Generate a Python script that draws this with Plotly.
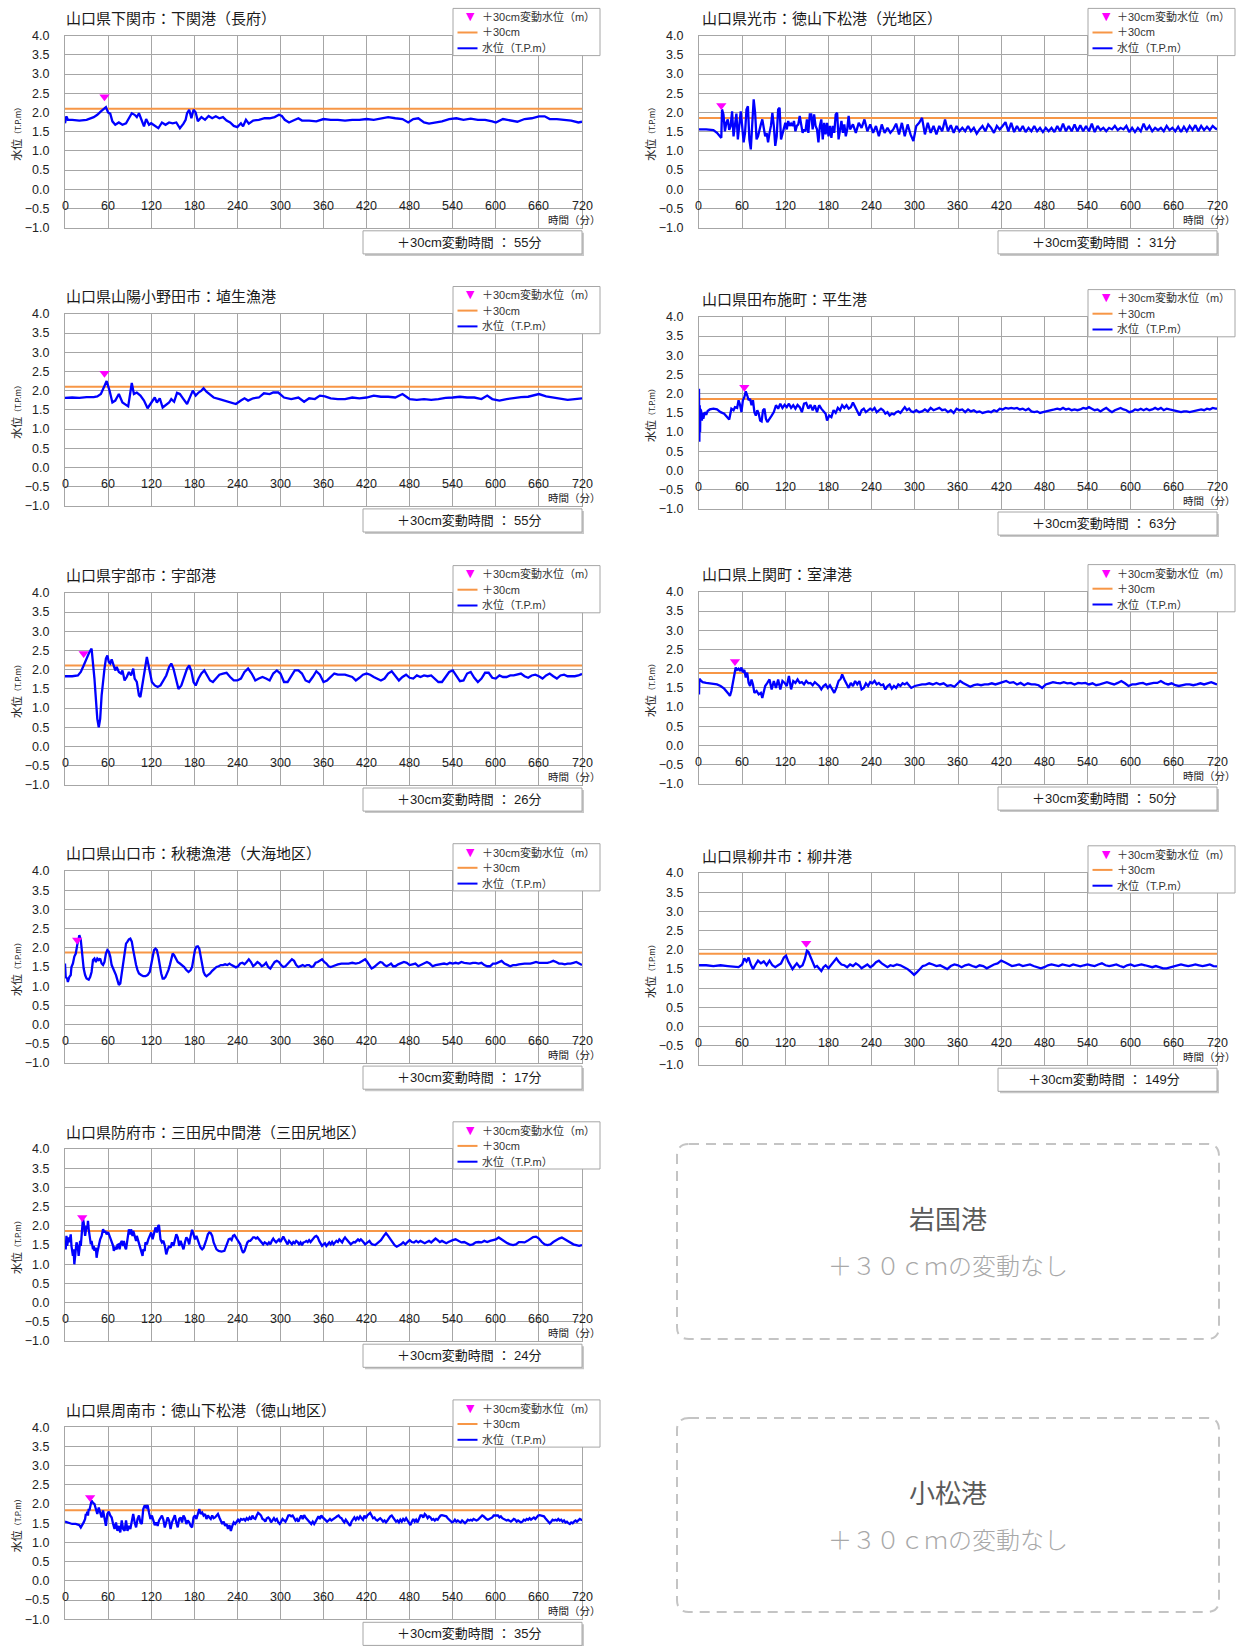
import plotly.graph_objects as go

W, H = 1252, 1646

# ---------------------------------------------------------------- data
time_ticks = list(range(0, 721, 60))
level_ticks = [-1.0, -0.5, 0.0, 0.5, 1.0, 1.5, 2.0, 2.5, 3.0, 3.5, 4.0]

# (minute, water level T.P. m)
shimonoseki = [(0,1.72),(2,1.9),(4,1.81),(10,1.81),(20,1.79),(30,1.81),(40,1.88),(45,1.94),(50,2.03),(55,2.11),(57,2.14),(60,2.0),(63,1.97),(66,1.77),(70,1.68),(75,1.74),(80,1.68),(85,1.72),(90,1.88),(93,1.98),(97,1.94),(100,1.88),(103,1.98),(107,1.77),(110,1.64),(113,1.83),(117,1.68),(120,1.72),(125,1.65),(130,1.59),(135,1.74),(140,1.68),(145,1.74),(150,1.72),(155,1.74),(160,1.59),(165,1.71),(168,1.81),(170,1.98),(173,2.07),(176,1.85),(179,2.07),(182,2.0),(185,1.77),(190,1.88),(195,1.81),(200,1.91),(205,1.85),(210,1.9),(215,1.85),(220,1.88),(225,1.79),(230,1.74),(235,1.65),(240,1.62),(245,1.72),(248,1.64),(252,1.81),(256,1.71),(262,1.79),(270,1.81),(278,1.85),(285,1.85),(292,1.88),(298,1.94),(302,1.91),(306,1.81),(312,1.74),(318,1.79),(325,1.85),(330,1.79),(340,1.79),(350,1.77),(360,1.83),(370,1.81),(380,1.81),(390,1.79),(400,1.81),(410,1.81),(420,1.83),(430,1.81),(440,1.84),(450,1.88),(460,1.85),(470,1.83),(478,1.74),(485,1.83),(492,1.85),(500,1.74),(507,1.71),(515,1.74),(525,1.77),(535,1.83),(545,1.85),(555,1.81),(565,1.84),(575,1.81),(585,1.81),(595,1.77),(600,1.74),(610,1.83),(620,1.79),(630,1.76),(640,1.83),(650,1.85),(660,1.9),(668,1.9),(675,1.83),(685,1.83),(695,1.81),(705,1.79),(715,1.74),(720,1.76)]

hikari = [(0,1.56),(10,1.56),(20,1.54),(25,1.47),(29,1.38),(31,1.34),(32,2.08),(34,1.95),(36,1.51),(38,1.73),(40,1.82),(42,1.55),(44,1.65),(46,2.03),(48,1.38),(50,1.73),(52,1.97),(54,1.3),(56,1.78),(58,2.03),(60,1.65),(62,1.22),(64,1.47),(66,2.08),(68,2.16),(70,1.3),(72,1.04),(74,1.65),(76,2.34),(78,1.99),(80,1.3),(82,1.38),(84,1.56),(86,1.69),(88,1.82),(90,1.56),(92,1.38),(94,1.47),(96,1.22),(98,1.47),(100,1.65),(102,1.99),(104,1.65),(106,1.13),(108,1.38),(110,2.08),(112,2.12),(114,1.3),(116,1.47),(118,1.65),(120,1.73),(122,1.56),(124,1.78),(126,1.65),(128,1.71),(130,1.65),(132,1.78),(134,1.51),(136,1.65),(138,1.69),(140,1.91),(142,1.69),(144,1.47),(146,1.56),(148,1.51),(150,1.82),(152,1.47),(154,1.95),(156,1.95),(158,1.56),(160,1.95),(162,1.65),(164,1.56),(166,1.22),(168,1.65),(170,1.82),(172,1.3),(174,1.73),(176,1.43),(178,1.73),(180,1.38),(182,1.65),(184,1.34),(186,1.65),(188,1.47),(190,1.95),(192,1.99),(194,1.3),(196,1.56),(198,1.78),(200,1.47),(202,1.69),(204,1.38),(206,1.56),(208,1.91),(210,1.56),(214,1.69),(218,1.47),(222,1.73),(226,1.6),(230,1.82),(234,1.51),(238,1.69),(242,1.47),(246,1.65),(250,1.38),(254,1.69),(258,1.47),(262,1.6),(266,1.47),(270,1.56),(274,1.71),(278,1.43),(282,1.73),(286,1.38),(290,1.69),(294,1.43),(298,1.26),(302,1.65),(306,1.73),(310,1.86),(314,1.43),(318,1.73),(322,1.47),(326,1.65),(330,1.43),(334,1.65),(338,1.51),(342,1.82),(346,1.51),(350,1.67),(354,1.47),(358,1.65),(362,1.51),(366,1.6),(370,1.51),(374,1.65),(378,1.51),(382,1.6),(386,1.45),(390,1.56),(394,1.65),(398,1.51),(402,1.69),(406,1.6),(410,1.47),(414,1.65),(418,1.56),(422,1.65),(426,1.75),(430,1.51),(434,1.73),(438,1.49),(442,1.65),(446,1.51),(450,1.65),(454,1.49),(458,1.6),(462,1.51),(466,1.65),(470,1.51),(474,1.6),(478,1.49),(482,1.6),(486,1.51),(490,1.6),(494,1.49),(498,1.65),(502,1.51),(506,1.71),(510,1.51),(514,1.65),(518,1.51),(522,1.69),(526,1.51),(530,1.67),(534,1.51),(538,1.65),(542,1.51),(546,1.71),(550,1.49),(554,1.65),(558,1.54),(562,1.6),(566,1.51),(570,1.6),(574,1.56),(578,1.65),(582,1.54),(586,1.6),(590,1.56),(594,1.65),(598,1.49),(602,1.6),(606,1.49),(610,1.6),(614,1.51),(618,1.71),(622,1.54),(626,1.65),(630,1.51),(634,1.6),(638,1.54),(642,1.6),(646,1.51),(650,1.65),(654,1.54),(658,1.6),(662,1.51),(666,1.63),(670,1.49),(674,1.63),(678,1.51),(682,1.65),(686,1.54),(690,1.67),(694,1.51),(698,1.65),(702,1.54),(706,1.63),(710,1.54),(714,1.65),(718,1.58),(720,1.56)]

habu = [(0,1.81),(10,1.82),(20,1.81),(30,1.83),(40,1.83),(45,1.85),(50,1.91),(55,2.13),(58,2.25),(62,2.0),(66,1.69),(70,1.74),(75,1.91),(80,1.69),(85,1.62),(88,1.59),(91,1.95),(93,2.2),(96,1.91),(100,1.95),(105,1.87),(110,1.74),(115,1.54),(120,1.69),(125,1.82),(128,1.69),(132,1.8),(136,1.56),(140,1.62),(145,1.69),(148,1.78),(152,1.71),(156,1.94),(160,1.91),(165,1.78),(170,1.65),(175,1.87),(178,2.0),(182,1.87),(186,1.95),(190,2.0),(193,2.06),(197,1.97),(202,1.89),(207,1.82),(215,1.78),(225,1.72),(232,1.69),(238,1.65),(245,1.74),(250,1.8),(255,1.74),(262,1.8),(270,1.82),(277,1.93),(285,1.91),(290,1.95),(297,1.95),(305,1.82),(315,1.78),(325,1.82),(333,1.71),(340,1.8),(348,1.78),(355,1.87),(362,1.85),(370,1.8),(380,1.78),(390,1.78),(400,1.82),(410,1.8),(420,1.82),(430,1.87),(440,1.84),(450,1.84),(460,1.82),(470,1.91),(480,1.78),(490,1.76),(500,1.78),(510,1.76),(520,1.78),(530,1.81),(540,1.82),(550,1.84),(560,1.82),(570,1.82),(580,1.78),(588,1.87),(595,1.78),(605,1.74),(615,1.78),(625,1.81),(635,1.83),(645,1.84),(655,1.89),(660,1.91),(670,1.85),(680,1.82),(690,1.78),(700,1.76),(710,1.78),(720,1.8)]

hirao = [(0,2.13),(0.5,0.75),(1,1.7),(1.5,1.0),(2,1.6),(2.5,1.2),(3,1.55),(4,1.3),(5,1.5),(6,1.35),(8,1.52),(10,1.45),(12,1.55),(15,1.59),(20,1.61),(25,1.59),(30,1.52),(35,1.48),(40,1.39),(42,1.33),(45,1.61),(48,1.57),(50,1.65),(53,1.63),(55,1.83),(57,1.71),(59,1.52),(61,1.83),(63,1.91),(65,2.06),(67,1.96),(69,1.83),(71,1.87),(73,1.7),(75,1.83),(77,1.52),(79,1.43),(81,1.57),(83,1.48),(85,1.3),(87,1.28),(89,1.57),(91,1.61),(93,1.35),(95,1.26),(98,1.33),(101,1.43),(104,1.52),(107,1.7),(110,1.61),(113,1.74),(116,1.63),(119,1.71),(122,1.65),(125,1.74),(128,1.63),(131,1.7),(134,1.61),(137,1.71),(140,1.65),(143,1.52),(146,1.74),(149,1.76),(152,1.61),(155,1.71),(158,1.57),(161,1.7),(164,1.52),(167,1.7),(170,1.61),(173,1.54),(176,1.48),(178,1.3),(181,1.43),(184,1.39),(187,1.57),(190,1.5),(193,1.63),(196,1.57),(199,1.7),(202,1.63),(205,1.7),(208,1.61),(211,1.65),(214,1.77),(217,1.65),(220,1.57),(223,1.43),(226,1.57),(229,1.61),(232,1.52),(235,1.57),(238,1.61),(241,1.57),(244,1.63),(247,1.52),(250,1.57),(253,1.61),(256,1.57),(259,1.48),(262,1.52),(265,1.43),(268,1.48),(271,1.46),(274,1.52),(277,1.54),(280,1.5),(283,1.59),(286,1.65),(289,1.57),(292,1.61),(295,1.54),(298,1.52),(302,1.57),(306,1.52),(310,1.54),(314,1.59),(318,1.54),(322,1.63),(326,1.57),(330,1.61),(334,1.63),(338,1.57),(342,1.59),(346,1.52),(350,1.57),(354,1.5),(358,1.61),(362,1.57),(366,1.59),(370,1.52),(374,1.59),(378,1.54),(382,1.57),(386,1.52),(390,1.54),(394,1.5),(398,1.52),(402,1.54),(406,1.52),(410,1.57),(414,1.54),(418,1.61),(422,1.59),(426,1.63),(430,1.61),(434,1.63),(438,1.61),(442,1.63),(446,1.59),(450,1.61),(454,1.57),(458,1.61),(462,1.54),(466,1.52),(470,1.54),(474,1.5),(478,1.52),(482,1.54),(486,1.57),(490,1.57),(494,1.59),(498,1.61),(502,1.59),(506,1.63),(510,1.59),(514,1.61),(518,1.57),(522,1.59),(526,1.57),(530,1.59),(534,1.63),(538,1.61),(542,1.65),(546,1.61),(550,1.57),(554,1.59),(558,1.54),(562,1.59),(566,1.63),(570,1.57),(574,1.52),(578,1.57),(582,1.59),(586,1.63),(590,1.59),(594,1.57),(598,1.52),(602,1.54),(606,1.59),(610,1.57),(614,1.61),(618,1.57),(622,1.61),(626,1.57),(630,1.59),(634,1.63),(638,1.59),(642,1.63),(646,1.57),(650,1.61),(654,1.59),(658,1.57),(662,1.54),(666,1.54),(670,1.52),(674,1.54),(678,1.54),(682,1.52),(686,1.54),(690,1.57),(694,1.57),(698,1.59),(702,1.57),(706,1.61),(710,1.59),(714,1.63),(718,1.61),(720,1.61)]

ube = [(0,1.83),(10,1.83),(18,1.85),(22,1.94),(26,2.11),(30,2.29),(34,2.46),(37,2.55),(39,2.2),(41,1.77),(43,1.24),(45,0.72),(47,0.5),(49,0.72),(51,1.33),(53,1.77),(55,2.03),(57,2.29),(59,2.37),(61,2.2),(63,2.16),(65,2.27),(67,2.16),(70,1.98),(72,2.07),(75,1.94),(78,1.9),(80,1.98),(83,1.72),(86,1.81),(89,1.94),(92,1.85),(95,2.03),(97,1.77),(100,1.68),(103,1.33),(105,1.29),(108,1.59),(111,1.98),(114,2.33),(116,2.16),(118,1.94),(121,1.68),(125,1.59),(129,1.55),(133,1.59),(137,1.72),(141,1.85),(145,2.07),(148,2.16),(151,2.03),(154,1.77),(158,1.5),(162,1.59),(166,1.81),(170,2.03),(173,2.11),(176,1.96),(179,1.68),(182,1.59),(186,1.77),(190,1.9),(194,1.98),(198,1.85),(202,1.72),(206,1.68),(210,1.77),(215,1.87),(220,1.9),(225,1.92),(230,1.81),(235,1.72),(240,1.72),(245,1.77),(250,1.94),(255,2.03),(260,1.9),(265,1.72),(270,1.77),(275,1.81),(280,1.77),(285,1.72),(290,1.9),(295,1.98),(300,1.9),(305,1.68),(310,1.68),(315,1.83),(320,1.98),(325,1.98),(330,1.9),(335,1.72),(340,1.68),(345,1.81),(350,1.96),(355,1.87),(360,1.68),(365,1.72),(370,1.81),(375,1.9),(380,1.87),(390,1.87),(400,1.81),(405,1.72),(410,1.79),(415,1.87),(420,1.9),(425,1.87),(430,1.81),(435,1.77),(440,1.72),(445,1.77),(450,1.9),(455,1.96),(460,1.85),(465,1.72),(470,1.81),(475,1.87),(480,1.79),(485,1.77),(490,1.85),(495,1.81),(500,1.85),(505,1.83),(510,1.85),(515,1.77),(520,1.68),(525,1.68),(530,1.81),(535,1.94),(540,1.98),(545,1.85),(550,1.7),(555,1.72),(560,1.9),(565,1.94),(570,1.79),(575,1.68),(580,1.77),(585,1.92),(590,1.92),(595,1.79),(600,1.77),(605,1.85),(610,1.81),(615,1.81),(620,1.85),(625,1.85),(630,1.87),(635,1.9),(640,1.83),(645,1.79),(650,1.85),(655,1.87),(660,1.83),(665,1.77),(670,1.85),(675,1.9),(680,1.83),(685,1.77),(690,1.85),(695,1.87),(700,1.83),(710,1.83),(715,1.85),(720,1.89)]

murotsu = [(0,1.33),(0.5,1.74),(2,1.7),(5,1.65),(10,1.63),(15,1.62),(20,1.61),(25,1.59),(30,1.55),(35,1.48),(40,1.37),(43,1.29),(45,1.42),(47,1.63),(49,1.9),(51,2.03),(53,1.97),(55,2.0),(57,1.94),(59,2.03),(61,1.9),(63,1.97),(65,1.77),(67,1.9),(69,1.63),(71,1.55),(73,1.72),(75,1.59),(77,1.37),(80,1.42),(83,1.33),(86,1.37),(88,1.24),(90,1.37),(92,1.55),(95,1.63),(98,1.72),(101,1.46),(104,1.68),(107,1.5),(110,1.72),(113,1.46),(116,1.68),(119,1.63),(122,1.55),(125,1.81),(128,1.46),(131,1.68),(134,1.63),(137,1.72),(140,1.63),(143,1.65),(146,1.59),(149,1.68),(152,1.62),(155,1.63),(158,1.57),(161,1.65),(164,1.59),(167,1.55),(170,1.46),(173,1.55),(176,1.59),(179,1.5),(182,1.57),(185,1.46),(188,1.37),(191,1.5),(194,1.68),(197,1.74),(199,1.85),(202,1.72),(205,1.59),(208,1.5),(211,1.63),(214,1.55),(217,1.68),(220,1.59),(223,1.68),(226,1.46),(229,1.5),(232,1.62),(235,1.55),(238,1.65),(241,1.62),(244,1.68),(247,1.59),(250,1.63),(253,1.57),(256,1.59),(259,1.46),(262,1.55),(265,1.59),(268,1.48),(271,1.55),(274,1.5),(277,1.59),(280,1.55),(283,1.62),(286,1.59),(289,1.63),(292,1.57),(295,1.5),(300,1.55),(305,1.57),(310,1.59),(315,1.59),(320,1.62),(325,1.59),(330,1.63),(335,1.59),(340,1.62),(345,1.55),(350,1.57),(355,1.53),(360,1.63),(363,1.68),(367,1.63),(372,1.57),(377,1.53),(382,1.57),(387,1.59),(392,1.57),(397,1.59),(402,1.59),(407,1.62),(412,1.59),(417,1.63),(422,1.65),(427,1.68),(432,1.63),(437,1.65),(442,1.59),(447,1.63),(452,1.57),(457,1.62),(462,1.59),(467,1.59),(472,1.57),(477,1.5),(482,1.59),(487,1.62),(492,1.65),(497,1.63),(502,1.62),(507,1.65),(512,1.62),(517,1.63),(522,1.59),(527,1.63),(532,1.62),(537,1.63),(542,1.59),(547,1.62),(552,1.57),(557,1.59),(562,1.62),(567,1.65),(572,1.62),(577,1.59),(582,1.63),(587,1.68),(592,1.62),(597,1.55),(602,1.59),(607,1.59),(612,1.62),(617,1.63),(622,1.59),(627,1.62),(632,1.63),(637,1.63),(642,1.68),(647,1.62),(652,1.59),(657,1.62),(662,1.57),(667,1.55),(672,1.57),(677,1.59),(682,1.59),(687,1.57),(692,1.59),(697,1.62),(702,1.59),(707,1.63),(712,1.65),(717,1.61),(720,1.59)]

aio = [(0,1.59),(1,1.24),(3,1.2),(4,1.11),(6,1.24),(8,1.29),(9,1.5),(11,1.59),(13,1.77),(15,1.85),(17,2.07),(19,2.29),(20,2.33),(22,2.2),(24,1.77),(26,1.46),(28,1.29),(30,1.2),(33,1.17),(35,1.24),(37,1.37),(39,1.68),(41,1.72),(43,1.63),(45,1.72),(47,1.68),(49,1.72),(51,1.59),(53,1.55),(55,1.63),(57,1.85),(59,1.94),(61,1.9),(63,1.77),(65,1.55),(67,1.46),(69,1.42),(71,1.29),(73,1.16),(75,1.03),(77,1.07),(79,1.33),(81,1.68),(83,1.98),(85,2.11),(87,2.16),(89,2.22),(91,2.24),(93,2.16),(95,1.94),(97,1.72),(99,1.55),(101,1.42),(103,1.33),(106,1.29),(109,1.26),(112,1.26),(115,1.29),(118,1.37),(120,1.59),(122,1.81),(124,1.94),(126,1.98),(128,1.94),(130,1.77),(132,1.5),(134,1.33),(136,1.2),(138,1.2),(140,1.24),(142,1.31),(144,1.42),(146,1.55),(148,1.72),(150,1.85),(152,1.81),(154,1.72),(157,1.63),(160,1.59),(163,1.55),(166,1.5),(169,1.42),(172,1.37),(175,1.42),(177,1.5),(179,1.72),(181,1.94),(183,2.03),(185,2.04),(187,1.98),(189,1.77),(191,1.55),(193,1.37),(195,1.29),(197,1.26),(199,1.29),(202,1.33),(205,1.4),(208,1.46),(211,1.5),(214,1.52),(217,1.55),(220,1.55),(223,1.57),(226,1.55),(229,1.59),(232,1.55),(235,1.52),(238,1.49),(241,1.52),(244,1.59),(247,1.61),(250,1.57),(253,1.63),(256,1.7),(259,1.63),(262,1.52),(265,1.57),(268,1.63),(271,1.59),(274,1.52),(277,1.55),(280,1.61),(283,1.5),(286,1.46),(289,1.55),(292,1.63),(295,1.66),(298,1.63),(301,1.55),(304,1.5),(307,1.52),(310,1.59),(313,1.66),(316,1.7),(319,1.66),(322,1.55),(325,1.5),(328,1.52),(331,1.55),(334,1.52),(337,1.55),(340,1.55),(343,1.5),(346,1.52),(349,1.61),(352,1.63),(355,1.66),(358,1.7),(361,1.63),(364,1.59),(367,1.52),(370,1.5),(373,1.52),(376,1.55),(380,1.57),(385,1.59),(390,1.59),(395,1.59),(400,1.61),(405,1.59),(410,1.61),(415,1.66),(418,1.7),(421,1.63),(424,1.55),(427,1.46),(430,1.49),(433,1.55),(436,1.59),(439,1.63),(442,1.61),(445,1.55),(448,1.52),(451,1.55),(454,1.59),(457,1.52),(460,1.52),(464,1.57),(468,1.59),(472,1.63),(476,1.61),(480,1.55),(484,1.57),(488,1.59),(492,1.52),(496,1.55),(500,1.59),(504,1.63),(508,1.59),(512,1.52),(516,1.55),(520,1.57),(524,1.59),(528,1.59),(532,1.57),(536,1.61),(540,1.59),(544,1.61),(548,1.59),(552,1.63),(556,1.61),(560,1.59),(564,1.59),(568,1.61),(572,1.61),(576,1.59),(580,1.61),(584,1.55),(588,1.52),(592,1.52),(596,1.59),(600,1.59),(604,1.63),(608,1.66),(612,1.59),(616,1.55),(620,1.52),(624,1.55),(628,1.55),(632,1.57),(636,1.59),(640,1.59),(644,1.59),(648,1.59),(652,1.61),(656,1.63),(660,1.61),(664,1.61),(668,1.61),(672,1.61),(676,1.63),(680,1.66),(684,1.63),(688,1.59),(692,1.59),(696,1.57),(700,1.59),(704,1.59),(708,1.61),(712,1.63),(716,1.59),(720,1.55)]

yanai = [(0,1.6),(10,1.6),(20,1.58),(30,1.6),(40,1.58),(50,1.57),(55,1.55),(60,1.62),(63,1.78),(66,1.7),(69,1.8),(72,1.62),(75,1.5),(78,1.6),(82,1.72),(86,1.65),(90,1.7),(94,1.6),(98,1.72),(102,1.6),(106,1.55),(110,1.6),(114,1.65),(118,1.8),(121,1.85),(124,1.7),(127,1.6),(130,1.5),(133,1.58),(136,1.65),(140,1.55),(144,1.6),(147,1.75),(150,1.98),(152,1.95),(155,1.8),(158,1.65),(161,1.55),(164,1.58),(167,1.5),(170,1.45),(173,1.55),(176,1.6),(180,1.52),(184,1.62),(188,1.72),(191,1.78),(194,1.7),(198,1.62),(202,1.6),(206,1.55),(210,1.62),(214,1.58),(218,1.65),(222,1.6),(226,1.52),(230,1.58),(234,1.62),(238,1.55),(242,1.6),(246,1.68),(250,1.72),(254,1.65),(258,1.6),(262,1.55),(266,1.6),(270,1.58),(275,1.62),(280,1.6),(285,1.55),(290,1.5),(295,1.42),(299,1.35),(303,1.42),(307,1.5),(311,1.58),(315,1.6),(320,1.65),(325,1.62),(330,1.58),(335,1.6),(340,1.55),(345,1.5),(350,1.58),(355,1.62),(360,1.6),(365,1.55),(370,1.6),(375,1.62),(380,1.58),(385,1.55),(390,1.6),(395,1.58),(400,1.52),(405,1.58),(410,1.62),(415,1.65),(420,1.72),(425,1.68),(430,1.62),(435,1.58),(440,1.6),(445,1.62),(450,1.58),(455,1.6),(460,1.62),(465,1.58),(470,1.55),(475,1.52),(480,1.55),(485,1.6),(490,1.62),(495,1.6),(500,1.58),(505,1.62),(510,1.6),(515,1.58),(520,1.62),(525,1.6),(530,1.57),(535,1.6),(540,1.62),(545,1.6),(550,1.58),(555,1.62),(560,1.65),(565,1.6),(570,1.58),(575,1.6),(580,1.62),(585,1.58),(590,1.55),(595,1.6),(600,1.62),(605,1.58),(610,1.6),(615,1.62),(620,1.6),(625,1.58),(630,1.55),(635,1.58),(640,1.55),(645,1.52),(650,1.52),(655,1.55),(660,1.58),(665,1.6),(670,1.62),(675,1.6),(680,1.58),(685,1.6),(690,1.62),(695,1.6),(700,1.58),(705,1.6),(710,1.62),(715,1.58),(720,1.57)]

mitajiri = [(0,1.61),(1,1.39),(2,1.74),(3,1.48),(5,1.7),(6,1.57),(8,1.78),(9,1.48),(11,1.22),(12,1.39),(13,1.0),(15,1.3),(16,1.57),(18,1.43),(19,1.22),(20,1.39),(21,1.61),(22,1.48),(23,1.83),(24,2.04),(25,2.19),(26,2.09),(27,1.83),(28,1.74),(29,1.87),(30,2.0),(31,1.91),(32,2.13),(33,1.91),(34,1.78),(35,1.65),(36,1.52),(37,1.61),(39,1.39),(40,1.48),(41,1.35),(43,1.43),(44,1.17),(45,1.3),(47,1.48),(49,1.65),(51,1.74),(52,1.83),(53,1.91),(55,1.83),(56,1.87),(58,1.78),(60,1.84),(62,1.74),(64,1.65),(65,1.57),(67,1.48),(68,1.35),(70,1.43),(72,1.39),(73,1.5),(75,1.52),(76,1.39),(78,1.57),(79,1.61),(81,1.48),(82,1.61),(84,1.43),(85,1.39),(87,1.65),(88,1.83),(89,1.91),(91,1.78),(92,1.91),(94,1.74),(95,1.87),(97,1.74),(99,1.61),(100,1.74),(102,1.61),(104,1.52),(106,1.39),(108,1.22),(109,1.39),(111,1.35),(112,1.57),(114,1.52),(116,1.65),(118,1.74),(120,1.83),(122,1.65),(124,1.78),(126,1.96),(128,1.83),(130,2.02),(131,2.0),(133,1.65),(135,1.57),(137,1.61),(139,1.48),(141,1.26),(143,1.39),(145,1.48),(147,1.43),(149,1.57),(151,1.48),(153,1.65),(155,1.78),(157,1.7),(159,1.48),(161,1.61),(163,1.52),(165,1.39),(167,1.57),(169,1.7),(171,1.65),(173,1.52),(175,1.74),(177,1.9),(179,1.78),(181,1.65),(183,1.74),(185,1.61),(187,1.52),(189,1.43),(191,1.39),(193,1.43),(195,1.52),(197,1.65),(199,1.78),(201,1.83),(203,1.81),(205,1.74),(207,1.57),(209,1.48),(211,1.39),(214,1.35),(218,1.33),(222,1.35),(225,1.48),(228,1.65),(230,1.67),(232,1.63),(234,1.74),(236,1.76),(238,1.7),(240,1.65),(242,1.57),(244,1.52),(246,1.39),(248,1.3),(250,1.35),(252,1.48),(254,1.57),(256,1.61),(258,1.61),(260,1.65),(262,1.7),(264,1.7),(266,1.67),(268,1.7),(270,1.65),(272,1.61),(274,1.55),(276,1.52),(278,1.57),(280,1.55),(282,1.52),(284,1.57),(286,1.52),(288,1.61),(290,1.67),(292,1.61),(294,1.57),(296,1.61),(298,1.65),(300,1.58),(302,1.67),(304,1.72),(306,1.65),(308,1.57),(310,1.52),(312,1.61),(314,1.57),(316,1.52),(318,1.58),(320,1.55),(322,1.61),(324,1.58),(326,1.52),(328,1.57),(330,1.5),(332,1.57),(334,1.58),(336,1.61),(338,1.58),(340,1.63),(342,1.58),(344,1.63),(346,1.67),(348,1.72),(350,1.74),(352,1.7),(354,1.61),(356,1.52),(358,1.48),(360,1.52),(362,1.55),(364,1.48),(366,1.52),(368,1.57),(370,1.52),(372,1.58),(374,1.52),(376,1.57),(378,1.61),(380,1.58),(382,1.65),(384,1.61),(386,1.57),(388,1.65),(390,1.7),(392,1.65),(394,1.61),(396,1.57),(398,1.52),(400,1.55),(402,1.58),(404,1.57),(406,1.61),(408,1.65),(410,1.61),(412,1.65),(414,1.61),(416,1.57),(418,1.52),(420,1.55),(422,1.58),(424,1.61),(426,1.55),(428,1.52),(432,1.5),(436,1.57),(440,1.63),(444,1.74),(447,1.81),(450,1.74),(453,1.65),(456,1.57),(459,1.5),(462,1.46),(465,1.48),(468,1.52),(471,1.57),(474,1.52),(477,1.58),(480,1.63),(483,1.58),(486,1.57),(489,1.61),(492,1.57),(495,1.61),(498,1.58),(501,1.55),(504,1.58),(507,1.61),(510,1.57),(513,1.63),(516,1.67),(519,1.63),(522,1.58),(525,1.61),(528,1.57),(531,1.55),(534,1.58),(537,1.61),(540,1.63),(544,1.65),(548,1.61),(552,1.57),(556,1.58),(560,1.55),(564,1.5),(568,1.52),(572,1.57),(576,1.58),(580,1.57),(584,1.61),(588,1.58),(592,1.61),(596,1.63),(600,1.65),(604,1.7),(608,1.65),(612,1.58),(616,1.55),(620,1.52),(624,1.5),(628,1.52),(632,1.58),(636,1.58),(640,1.57),(644,1.61),(648,1.67),(652,1.71),(656,1.72),(660,1.67),(664,1.58),(668,1.52),(672,1.5),(676,1.52),(680,1.58),(684,1.63),(688,1.67),(692,1.7),(696,1.65),(700,1.61),(704,1.57),(708,1.52),(712,1.5),(716,1.48),(720,1.5)]

tokuyama = [(0,1.54),(5,1.5),(10,1.48),(15,1.48),(20,1.45),(22,1.39),(24,1.45),(26,1.52),(28,1.61),(29,1.74),(30,1.7),(31,1.8),(32,1.7),(33,1.87),(34,1.83),(35,1.96),(37,2.09),(39,2.03),(41,2.0),(43,1.87),(45,1.74),(47,1.91),(49,1.78),(51,1.65),(53,1.83),(55,1.61),(57,1.43),(59,1.74),(61,1.8),(63,1.7),(65,1.65),(67,1.48),(69,1.35),(71,1.52),(73,1.3),(75,1.43),(77,1.26),(79,1.57),(81,1.35),(83,1.3),(85,1.57),(87,1.3),(89,1.43),(91,1.35),(93,1.61),(95,1.74),(97,1.52),(99,1.39),(101,1.61),(103,1.7),(105,1.52),(107,1.48),(109,1.87),(111,1.96),(113,1.91),(115,1.97),(117,1.78),(119,1.61),(121,1.7),(123,1.57),(125,1.45),(127,1.52),(129,1.43),(131,1.57),(133,1.63),(135,1.7),(137,1.59),(139,1.39),(141,1.52),(143,1.65),(145,1.57),(147,1.35),(149,1.52),(151,1.61),(153,1.71),(155,1.52),(157,1.39),(159,1.61),(161,1.65),(163,1.52),(165,1.7),(167,1.63),(169,1.48),(171,1.57),(173,1.52),(175,1.43),(177,1.39),(179,1.65),(181,1.7),(183,1.61),(185,1.74),(187,1.87),(189,1.74),(191,1.78),(193,1.7),(195,1.74),(197,1.61),(199,1.7),(201,1.65),(203,1.61),(205,1.7),(207,1.63),(209,1.65),(211,1.7),(213,1.74),(215,1.65),(217,1.57),(219,1.48),(221,1.54),(223,1.43),(225,1.48),(227,1.35),(229,1.45),(231,1.3),(233,1.43),(235,1.52),(237,1.48),(239,1.54),(241,1.59),(243,1.54),(245,1.61),(247,1.59),(249,1.61),(251,1.57),(253,1.63),(255,1.59),(257,1.65),(259,1.59),(261,1.7),(263,1.63),(265,1.61),(267,1.7),(269,1.77),(271,1.74),(273,1.7),(275,1.61),(277,1.59),(279,1.54),(281,1.63),(283,1.65),(285,1.61),(287,1.52),(289,1.59),(291,1.63),(293,1.57),(295,1.61),(297,1.52),(299,1.48),(301,1.54),(303,1.61),(305,1.57),(307,1.54),(309,1.61),(311,1.7),(313,1.71),(315,1.68),(317,1.7),(319,1.63),(321,1.57),(323,1.61),(325,1.54),(327,1.63),(329,1.7),(331,1.61),(333,1.71),(335,1.65),(337,1.61),(339,1.57),(341,1.52),(343,1.48),(345,1.54),(347,1.48),(349,1.54),(351,1.63),(353,1.68),(355,1.61),(357,1.7),(359,1.65),(361,1.61),(363,1.59),(365,1.54),(367,1.57),(369,1.61),(371,1.57),(373,1.59),(375,1.63),(377,1.65),(379,1.68),(381,1.7),(383,1.65),(385,1.63),(387,1.57),(389,1.52),(391,1.59),(393,1.54),(395,1.48),(397,1.43),(399,1.54),(401,1.61),(403,1.65),(405,1.59),(407,1.65),(409,1.61),(411,1.68),(413,1.63),(415,1.59),(417,1.7),(419,1.63),(421,1.7),(423,1.74),(425,1.77),(427,1.7),(429,1.63),(431,1.65),(433,1.59),(435,1.57),(437,1.61),(439,1.63),(441,1.59),(443,1.54),(445,1.57),(447,1.52),(449,1.57),(451,1.63),(453,1.68),(455,1.7),(457,1.65),(459,1.59),(461,1.54),(463,1.57),(465,1.52),(467,1.59),(469,1.54),(471,1.61),(473,1.57),(475,1.63),(477,1.57),(479,1.48),(481,1.45),(483,1.54),(485,1.61),(487,1.54),(489,1.59),(491,1.52),(493,1.61),(495,1.7),(497,1.7),(499,1.65),(501,1.74),(503,1.7),(505,1.63),(507,1.68),(509,1.65),(511,1.59),(513,1.61),(515,1.57),(517,1.61),(519,1.59),(521,1.65),(523,1.7),(525,1.71),(527,1.7),(529,1.71),(531,1.68),(533,1.63),(535,1.59),(537,1.57),(539,1.52),(541,1.54),(543,1.59),(545,1.54),(547,1.57),(549,1.54),(551,1.52),(553,1.57),(555,1.54),(557,1.5),(559,1.54),(561,1.59),(563,1.57),(565,1.59),(567,1.57),(569,1.61),(571,1.59),(573,1.57),(575,1.59),(577,1.63),(579,1.68),(581,1.7),(583,1.68),(585,1.63),(587,1.61),(589,1.59),(591,1.61),(593,1.63),(595,1.65),(597,1.7),(599,1.7),(601,1.71),(603,1.7),(605,1.65),(607,1.68),(609,1.63),(611,1.61),(613,1.59),(615,1.57),(617,1.59),(619,1.57),(621,1.54),(623,1.57),(625,1.61),(627,1.59),(629,1.54),(631,1.57),(633,1.54),(635,1.52),(637,1.54),(639,1.59),(641,1.57),(643,1.61),(645,1.59),(647,1.63),(649,1.59),(651,1.61),(653,1.65),(655,1.61),(657,1.65),(659,1.7),(661,1.71),(663,1.7),(665,1.71),(667,1.68),(669,1.63),(671,1.59),(673,1.54),(675,1.5),(677,1.54),(679,1.59),(681,1.57),(683,1.59),(685,1.57),(687,1.61),(689,1.57),(691,1.59),(693,1.54),(695,1.57),(697,1.52),(699,1.54),(701,1.5),(703,1.48),(705,1.52),(707,1.5),(709,1.54),(711,1.57),(713,1.54),(715,1.59),(717,1.61),(719,1.59),(720,1.61)]

station_titles = [
    "山口県下関市：下関港（長府）",
    "山口県光市：徳山下松港（光地区）",
    "山口県山陽小野田市：埴生漁港",
    "山口県田布施町：平生港",
    "山口県宇部市：宇部港",
    "山口県上関町：室津港",
    "山口県山口市：秋穂漁港（大海地区）",
    "山口県柳井市：柳井港",
    "山口県防府市：三田尻中間港（三田尻地区）",
    "山口県周南市：徳山下松港（徳山地区）",
]
station_series = [shimonoseki, hikari, habu, hirao, ube, murotsu, aio, yanai, mitajiri, tokuyama]
threshold_levels = [2.10, 1.86, 2.10, 1.86, 2.11, 1.89, 1.88, 1.90, 1.87, 1.84]
rise_minutes = [55, 31, 55, 63, 26, 50, 17, 149, 24, 35]
rise_levels = [2.41, 2.18, 2.45, 2.17, 2.42, 2.19, 2.20, 2.17, 2.22, 2.17]
no_change_ports = ["岩国港", "小松港"]

legend_labels = ["＋30cm変動水位（m）", "＋30cm", "水位（T.P.m）"]

# ---------------------------------------------------------------- layout geometry (pixels)
COL_X = [(65, 582), (699, 1217)]
panel_col = [0, 1, 0, 1, 0, 1, 0, 1, 0, 0]
panel_top = [35.7, 35.7, 313.8, 316.9, 592.9, 591.9, 871.0, 873.1, 1149.1, 1427.2]
PLOT_H = 192.0
note_boxes = [(677, 1144, 1219, 1339), (677, 1418, 1219, 1612)]

BLUE = "#0000FF"
ORANGE = "#F79646"
MAGENTA = "#FF00FF"
GRID = "#A6A6A6"
JP = "Noto Sans CJK JP"
NUM = "Liberation Sans, Noto Sans CJK JP"


def fx(px):
    return px / W


def fy(py):
    return 1 - py / H


fig = go.Figure()
annotations = []
shapes = []
layout_axes = {}

for i, series in enumerate(station_series):
    n = i + 1
    xa = "x" if n == 1 else f"x{n}"
    ya = "y" if n == 1 else f"y{n}"
    x0, x1 = COL_X[panel_col[i]]
    top = panel_top[i]
    bot = top + PLOT_H

    layout_axes["xaxis" if n == 1 else f"xaxis{n}"] = dict(
        domain=[fx(x0), fx(x1)], range=[time_ticks[0], time_ticks[-1]], anchor=ya,
        tickmode="array", tickvals=time_ticks, showticklabels=False, ticks="",
        showgrid=True, gridcolor=GRID, gridwidth=1, zeroline=False,
        showline=True, linecolor=GRID, linewidth=1, mirror=True, fixedrange=True,
    )
    layout_axes["yaxis" if n == 1 else f"yaxis{n}"] = dict(
        domain=[fy(bot), fy(top)], range=[level_ticks[0], level_ticks[-1]], anchor=xa,
        tickmode="array", tickvals=level_ticks, ticktext=[f"{v:.1f}".replace("-", "\u2212") for v in level_ticks],
        ticks="outside", ticklen=12, tickcolor="rgba(0,0,0,0)",
        tickfont=dict(family=NUM, size=12.5, color="#222222"),
        showgrid=True, gridcolor=GRID, gridwidth=1, zeroline=False,
        showline=True, linecolor=GRID, linewidth=1, mirror=True, fixedrange=True,
    )

    t = [p[0] for p in series]
    v = [p[1] for p in series]
    thr = threshold_levels[i]
    fig.add_trace(go.Scatter(x=[time_ticks[0], time_ticks[-1]], y=[thr, thr], mode="lines",
                             line=dict(color=ORANGE, width=2), xaxis=xa, yaxis=ya,
                             showlegend=False, hoverinfo="skip"))
    fig.add_trace(go.Scatter(x=t, y=v, mode="lines", line=dict(color=BLUE, width=2.3),
                             xaxis=xa, yaxis=ya, showlegend=False))
    fig.add_trace(go.Scatter(x=[rise_minutes[i]], y=[rise_levels[i]], mode="markers",
                             marker=dict(symbol="triangle-down", color=MAGENTA, size=9, line=dict(width=0)),
                             xaxis=xa, yaxis=ya, showlegend=False))

    # time labels sit just under the zero line
    for tv in time_ticks:
        annotations.append(dict(x=tv, y=-0.43, xref=xa, yref=ya, text=str(tv), showarrow=False,
                                xanchor="center", yanchor="middle",
                                font=dict(family=NUM, size=12.5, color="#222222")))

    # panel title
    title_x = x0 - 1 if panel_col[i] == 0 else x0 + 1
    annotations.append(dict(x=fx(title_x), y=fy(top - 18), xref="paper", yref="paper",
                            text=station_titles[i], showarrow=False, xanchor="left", yanchor="middle",
                            font=dict(family=JP, size=15, color="#1a1a1a")))
    # y axis title
    annotations.append(dict(x=fx(x0 - 49), y=fy(top + PLOT_H / 2), xref="paper", yref="paper",
                            text='水位<span style="font-size:8px">（T.P.m）</span>', textangle=-90,
                            showarrow=False, xanchor="center", yanchor="middle",
                            font=dict(family=JP, size=11, color="#222222")))
    # time unit label
    annotations.append(dict(x=fx(x1 + 21), y=fy(bot - 8.4), xref="paper", yref="paper",
                            text="時間（分）", showarrow=False, xanchor="right", yanchor="middle",
                            font=dict(family=JP, size=10.5, color="#222222")))

    # legend panel
    lx0, lx1 = x1 - 129, x1 + 18
    ly0, ly1 = top - 27.3, top + 19.9
    shapes.append(dict(type="rect", xref="paper", yref="paper", x0=fx(lx0), x1=fx(lx1),
                       y0=fy(ly1), y1=fy(ly0), line=dict(color=GRID, width=1), fillcolor="white", layer="above"))
    rows = [ly0 + 8.4, ly0 + 24.1, ly0 + 39.9]
    annotations.append(dict(x=fx(lx0 + 18), y=fy(rows[0]), xref="paper", yref="paper", text="▼",
                            showarrow=False, xanchor="center", yanchor="middle",
                            font=dict(family="DejaVu Sans", size=11, color=MAGENTA)))
    for row, col in ((rows[1], ORANGE), (rows[2], BLUE)):
        shapes.append(dict(type="line", xref="paper", yref="paper", x0=fx(lx0 + 4.5), x1=fx(lx0 + 24.5),
                           y0=fy(row), y1=fy(row), line=dict(color=col, width=2), layer="above"))
    for row, label in zip(rows, legend_labels):
        annotations.append(dict(x=fx(lx0 + 27), y=fy(row), xref="paper", yref="paper", text=label,
                                showarrow=False, xanchor="left", yanchor="middle",
                                font=dict(family=NUM, size=11, color="#333333")))

    # duration box
    bx0, bx1 = x1 - 219, x1
    by0, by1 = bot + 3.1, bot + 26.2
    shapes.append(dict(type="rect", xref="paper", yref="paper", x0=fx(bx0 + 2), x1=fx(bx1 + 2),
                       y0=fy(by1 + 2), y1=fy(by0 + 2), line=dict(width=0), fillcolor="#C8C8C8"))
    shapes.append(dict(type="rect", xref="paper", yref="paper", x0=fx(bx0), x1=fx(bx1),
                       y0=fy(by1), y1=fy(by0), line=dict(color=GRID, width=1), fillcolor="white"))
    annotations.append(dict(x=fx((bx0 + bx1) / 2 - 4), y=fy((by0 + by1) / 2), xref="paper", yref="paper",
                            text=f"＋30cm変動時間 ： {rise_minutes[i]}分", showarrow=False,
                            xanchor="center", yanchor="middle",
                            font=dict(family=NUM, size=13, color="#1a1a1a")))


def rounded_rect(x0, y0, x1, y1, r):
    pts = [("M", x0 + r, y0), ("L", x1 - r, y0), ("Q", x1, y0, x1, y0 + r), ("L", x1, y1 - r),
           ("Q", x1, y1, x1 - r, y1), ("L", x0 + r, y1), ("Q", x0, y1, x0, y1 - r),
           ("L", x0, y0 + r), ("Q", x0, y0, x0 + r, y0)]
    out = []
    for p in pts:
        cmd, coords = p[0], p[1:]
        pairs = [f"{fx(coords[k]):.5f},{fy(coords[k + 1]):.5f}" for k in range(0, len(coords), 2)]
        out.append(cmd + " ".join(pairs))
    return " ".join(out) + " Z"


for (x0, y0, x1, y1), port in zip(note_boxes, no_change_ports):
    shapes.append(dict(type="path", xref="paper", yref="paper", path=rounded_rect(x0, y0, x1, y1, 12),
                       line=dict(color="#C4C4C4", width=2, dash="10px,7px")))
    cx = (x0 + x1) / 2
    annotations.append(dict(x=fx(cx), y=fy(y0 + 73), xref="paper", yref="paper", text=port,
                            showarrow=False, xanchor="center", yanchor="middle",
                            font=dict(family=JP, size=26, color="#5a5a5a")))
    annotations.append(dict(x=fx(cx), y=fy(y0 + 120), xref="paper", yref="paper",
                            text="＋３０ｃｍの変動なし", showarrow=False, xanchor="center", yanchor="middle",
                            font=dict(family=JP, size=24, color="#A8A8A8", weight=300)))

fig.update_layout(
    width=W, height=H,
    margin=dict(l=0, r=0, t=0, b=0, autoexpand=False),
    paper_bgcolor="white", plot_bgcolor="white",
    showlegend=False,
    annotations=annotations,
    shapes=shapes,
    **layout_axes,
)

fig.write_html("out.html")
